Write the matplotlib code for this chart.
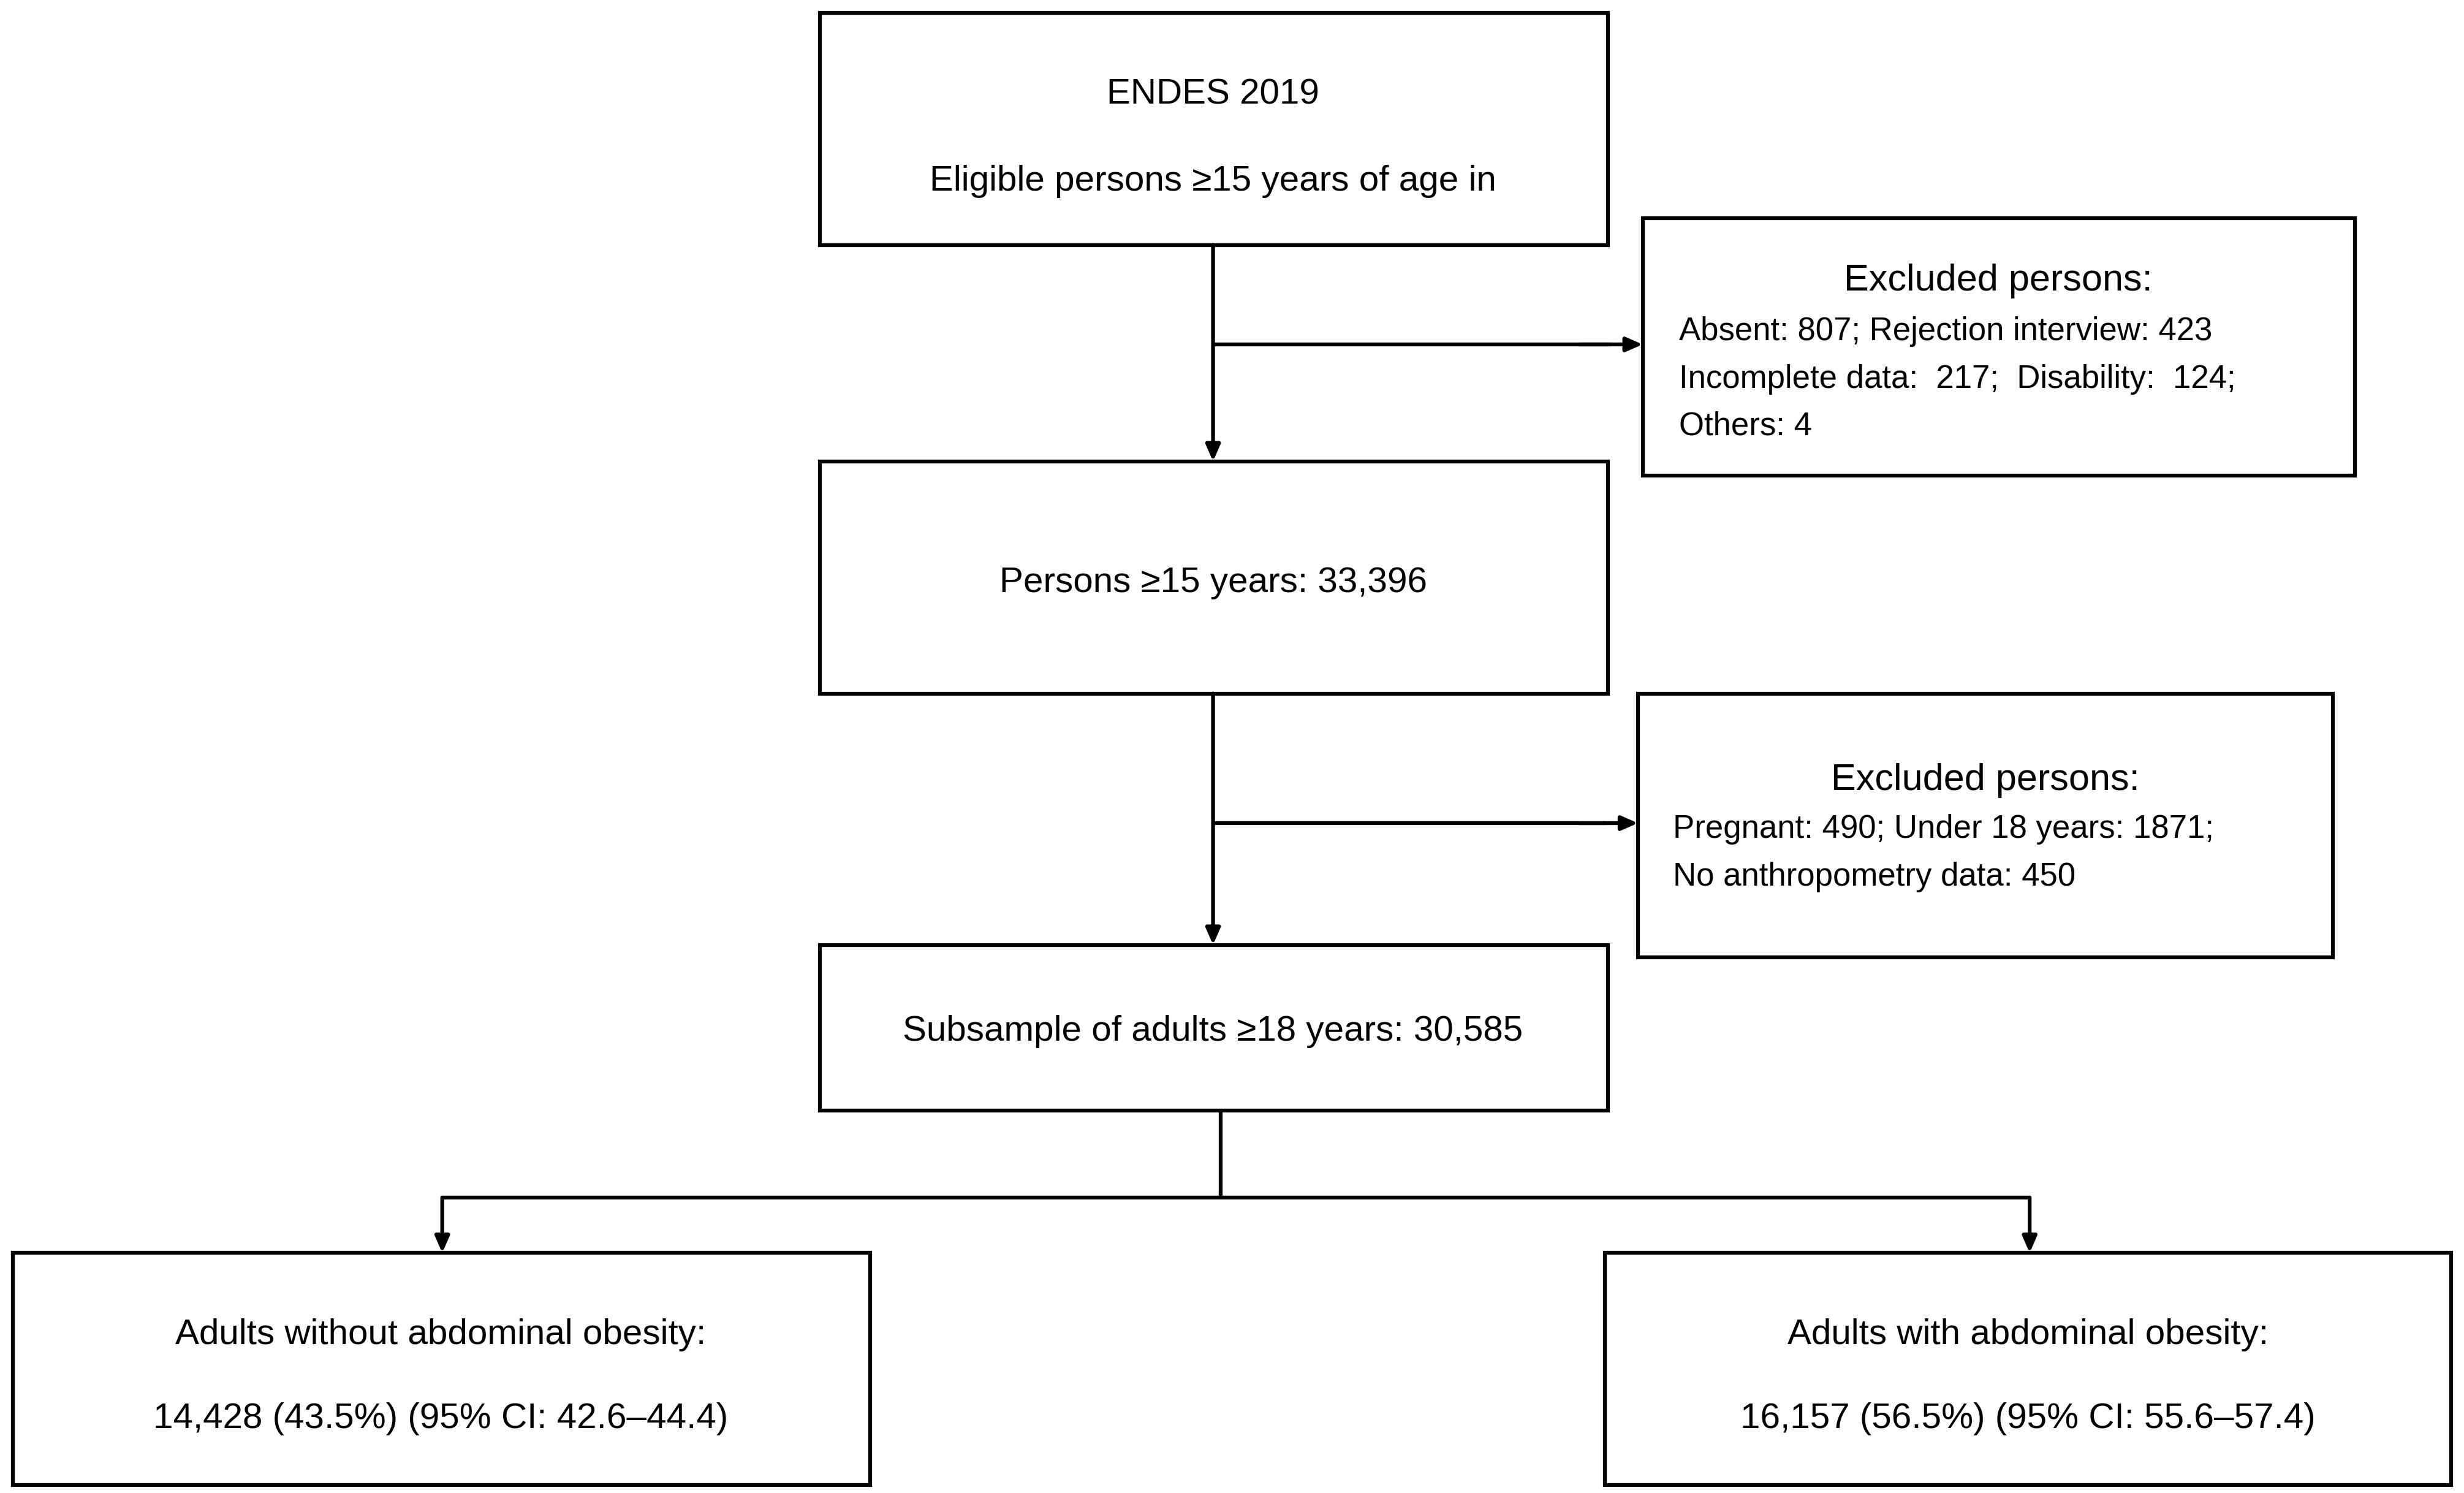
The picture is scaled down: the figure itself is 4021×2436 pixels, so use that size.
import matplotlib
matplotlib.use("Agg")
import matplotlib.pyplot as plt
from matplotlib.patches import Rectangle

plt.rcParams['font.family'] = ['Liberation Sans', 'DejaVu Sans']

W, H = 1560, 945
fig = plt.figure(figsize=(40.21, 24.36), dpi=100)
ax = fig.add_axes([0, 0, 1, 1])
ax.set_xlim(0, W); ax.set_ylim(H, 0); ax.axis('off')

lw = 4.5
# boxes: (x0, y0, x1, y1)
boxes = {
    'b1': (519, 8, 1018, 155),
    'e1': (1040, 138, 1491, 301),
    'b2': (519, 292, 1018, 439),
    'e2': (1037, 439, 1477, 606),
    'b3': (519, 598, 1018, 703),
    'l': (8, 793, 551, 940),
    'r': (1016, 793, 1552, 940),
}
for x0, y0, x1, y1 in boxes.values():
    ax.add_patch(Rectangle((x0, y0), x1 - x0, y1 - y0, fill=False, lw=lw, ec='black'))

fs = 42
ax.text(768, 60, "ENDES 2019", ha='center', va='center', fontsize=fs)
ax.text(768, 115, "Eligible persons ≥15 years of age in", ha='center', va='center', fontsize=fs)
ax.text(768, 369, "Persons ≥15 years: 33,396", ha='center', va='center', fontsize=fs)
ax.text(768, 653, "Subsample of adults ≥18 years: 30,585", ha='center', va='center', fontsize=fs)
ax.text(279, 845, "Adults without abdominal obesity:", ha='center', va='center', fontsize=fs)
ax.text(279, 898, "14,428 (43.5%) (95% CI: 42.6\u201344.4)", ha='center', va='center', fontsize=fs)
ax.text(1284, 845, "Adults with abdominal obesity:", ha='center', va='center', fontsize=fs)
ax.text(1284, 898, "16,157 (56.5%) (95% CI: 55.6\u201357.4)", ha='center', va='center', fontsize=fs)

ax.text(1265, 178, "Excluded persons:", ha='center', va='center', fontsize=44)
e1 = ["Absent: 807; Rejection interview: 423",
      "Incomplete data:  217;  Disability:  124;",
      "Others: 4"]
for i, t in enumerate(e1):
    ax.text(1063, 210 + i * 30, t, ha='left', va='center', fontsize=38)
ax.text(1257, 494, "Excluded persons:", ha='center', va='center', fontsize=44)
e2 = ["Pregnant: 490; Under 18 years: 1871;",
      "No anthropometry data: 450"]
for i, t in enumerate(e2):
    ax.text(1059, 525 + i * 30, t, ha='left', va='center', fontsize=38)

def arrow(x0, y0, x1, y1):
    ax.annotate("", xy=(x1, y1), xytext=(x0, y0),
                arrowprops=dict(arrowstyle='-|>,head_length=1.6,head_width=0.7',
                                lw=lw, color='black', shrinkA=0, shrinkB=0))

def line(xs, ys):
    ax.plot(xs, ys, color='black', lw=lw, solid_capstyle='butt')

arrow(768, 155, 768, 292)
line([768, 1020], [218, 218]); arrow(1000, 218, 1040, 218)
arrow(768, 439, 768, 598)
line([768, 1017], [521, 521]); arrow(1000, 521, 1037, 521)
line([773, 773], [703, 758])
line([280, 1285], [758, 758])
arrow(280, 758, 280, 793)
arrow(1285, 758, 1285, 793)

fig.savefig("out.png", dpi=100)
